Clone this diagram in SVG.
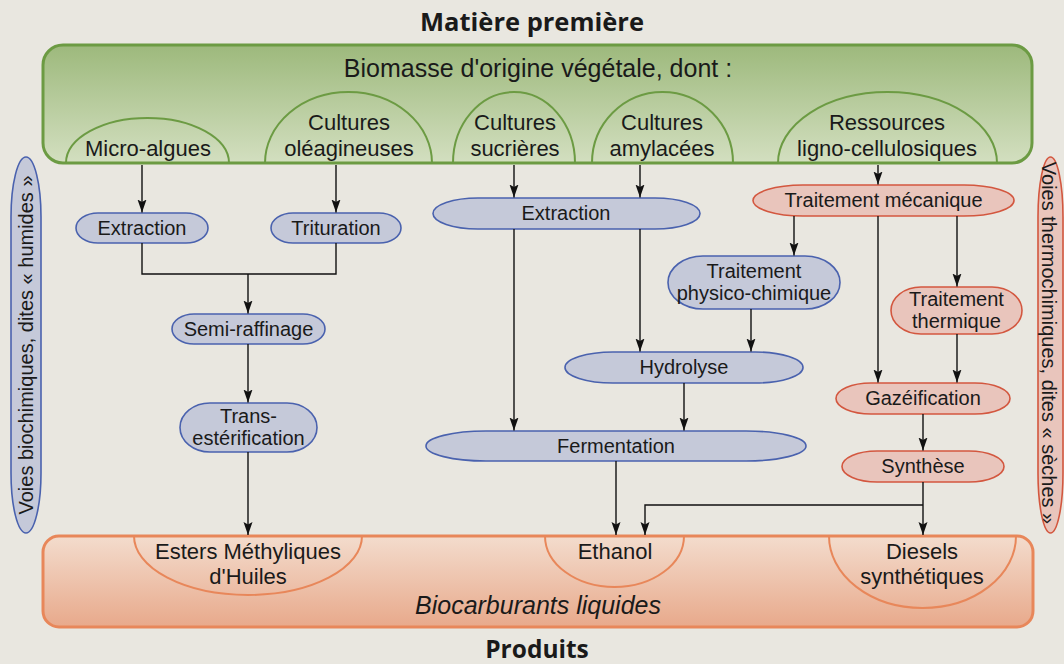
<svg xmlns="http://www.w3.org/2000/svg" width="1064" height="664" viewBox="0 0 1064 664">
<defs>
<linearGradient id="gGreen" x1="0" y1="0" x2="0" y2="1">
<stop offset="0" stop-color="#9db97c"/>
<stop offset="1" stop-color="#d3dfc0"/>
</linearGradient>
<linearGradient id="gOrange" x1="0" y1="0" x2="0" y2="1">
<stop offset="0" stop-color="#f3dccd"/>
<stop offset="1" stop-color="#e8a98b"/>
</linearGradient>
<marker id="arr" markerUnits="userSpaceOnUse" markerWidth="13" markerHeight="10" refX="13" refY="4.5" orient="auto">
<path d="M0,0 L13,4.5 L0,9 L2.5,4.5 z" fill="#111"/>
</marker>
</defs>
<style>
text{font-family:"Liberation Sans",Arial,sans-serif;fill:#1a1a1a;}
.title{font-family:"Open Sans",sans-serif;font-weight:700;font-size:25.5px;text-anchor:middle}
.big{font-size:25px;text-anchor:middle}
.src{font-size:22px;text-anchor:middle}
.nd{font-size:20px;text-anchor:middle}
.side{font-size:20px;text-anchor:middle}
.bl{fill:#c5c9d9;stroke:#4a62ae;stroke-width:1.6}
.rd{fill:#e9c5bc;stroke:#d3573f;stroke-width:1.6}
.garc{fill:none;stroke:#6c9b43;stroke-width:2}
.oarc{fill:none;stroke:#e8875a;stroke-width:2}
.conn line,.conn polyline{stroke:#111;stroke-width:1.4;fill:none}
</style>
<rect width="1064" height="664" fill="#e9e7e0"/>

<text class="title" x="532" y="31">Matière première</text>

<g id="biomasse">
<rect x="43" y="45" width="989" height="118" rx="20" ry="20" fill="url(#gGreen)" stroke="#6c9b43" stroke-width="3"/>
<text class="big" x="538" y="77">Biomasse d'origine végétale, dont :</text>
</g>
<g id="micro-algues">
<path class="garc" d="M66,163 A81.5,45 0 0 1 229,163"/>
<text class="src" x="148" y="156">Micro-algues</text>
</g>
<g id="oleagineuses">
<path class="garc" d="M265,163 A83.5,71 0 0 1 432,163"/>
<text class="src" x="349" y="130">Cultures</text>
<text class="src" x="349" y="156">oléagineuses</text>
</g>
<g id="sucrieres">
<path class="garc" d="M453,163 A61,71 0 0 1 575,163"/>
<text class="src" x="515" y="130">Cultures</text>
<text class="src" x="515" y="156">sucrières</text>
</g>
<g id="amylacees">
<path class="garc" d="M592,163 A70.5,71 0 0 1 733,163"/>
<text class="src" x="662" y="130">Cultures</text>
<text class="src" x="662" y="156">amylacées</text>
</g>
<g id="ligno">
<path class="garc" d="M778,163 A109.5,71 0 0 1 997,163"/>
<text class="src" x="887" y="130">Ressources</text>
<text class="src" x="887" y="156">ligno-cellulosiques</text>
</g>

<g id="voies-bio">
<rect class="bl" x="11" y="157" width="30" height="376" rx="15" ry="60"/>
<text class="side" transform="translate(33,345) rotate(-90)" x="0" y="0">Voies biochimiques, dites « humides »</text>
</g>
<g id="voies-thermo">
<rect class="rd" x="1038" y="157" width="25" height="376" rx="12.5" ry="60"/>
<text class="side" transform="translate(1042,343) rotate(90)" x="0" y="0">Voies thermochimiques, dites « sèches »</text>
</g>

<g id="extraction1">
<rect class="bl" x="76" y="213" width="132" height="30" rx="22" ry="15"/>
<text class="nd" x="142" y="235">Extraction</text>
</g>
<g id="trituration">
<rect class="bl" x="271" y="213" width="130" height="30" rx="22" ry="15"/>
<text class="nd" x="336" y="235">Trituration</text>
</g>
<g id="semi-raffinage">
<rect class="bl" x="172" y="314" width="153" height="30" rx="22" ry="15"/>
<text class="nd" x="248.5" y="336">Semi-raffinage</text>
</g>
<g id="transesterification">
<rect class="bl" x="180" y="403" width="137" height="49" rx="30" ry="24.5"/>
<text class="nd" x="248.5" y="423">Trans-</text>
<text class="nd" x="248.5" y="445">estérification</text>
</g>
<g id="extraction2">
<rect class="bl" x="433" y="198" width="267" height="31" rx="45" ry="15.5"/>
<text class="nd" x="566" y="220">Extraction</text>
</g>
<g id="physico">
<rect class="bl" x="668" y="256" width="172" height="53" rx="35" ry="26.5"/>
<text class="nd" x="754" y="278">Traitement</text>
<text class="nd" x="754" y="300">physico-chimique</text>
</g>
<g id="hydrolyse">
<rect class="bl" x="565" y="352" width="238" height="31" rx="48" ry="15.5"/>
<text class="nd" x="684" y="374">Hydrolyse</text>
</g>
<g id="fermentation">
<rect class="bl" x="426" y="431" width="380" height="30" rx="60" ry="15"/>
<text class="nd" x="616" y="453">Fermentation</text>
</g>

<g id="mecanique">
<rect class="rd" x="753" y="185" width="261" height="31" rx="50" ry="15.5"/>
<text class="nd" x="883.5" y="207">Traitement mécanique</text>
</g>
<g id="thermique">
<rect class="rd" x="891" y="287" width="131" height="47" rx="30" ry="23.5"/>
<text class="nd" x="956.5" y="306">Traitement</text>
<text class="nd" x="956.5" y="328">thermique</text>
</g>
<g id="gazeification">
<rect class="rd" x="836" y="383" width="174" height="31" rx="35" ry="15.5"/>
<text class="nd" x="923" y="405">Gazéification</text>
</g>
<g id="synthese">
<rect class="rd" x="842" y="451" width="162" height="31" rx="35" ry="15.5"/>
<text class="nd" x="923" y="473">Synthèse</text>
</g>

<g id="produits">
<rect x="43" y="536" width="990" height="91" rx="16" ry="16" fill="url(#gOrange)" stroke="#e8875a" stroke-width="3"/>
<text class="big" x="538" y="614" font-style="italic">Biocarburants liquides</text>
</g>
<g id="emh">
<path class="oarc" d="M134,536 A114,59 0 0 0 362,536"/>
<text class="src" x="248" y="559">Esters Méthyliques</text>
<text class="src" x="248" y="584">d'Huiles</text>
</g>
<g id="ethanol">
<path class="oarc" d="M545,536 A69.5,51 0 0 0 684,536"/>
<text class="src" x="615" y="559">Ethanol</text>
</g>
<g id="diesels">
<path class="oarc" d="M829,536 A93.5,72 0 0 0 1016,536"/>
<text class="src" x="922" y="559">Diesels</text>
<text class="src" x="922" y="584">synthétiques</text>
</g>

<text class="title" x="537" y="658" style="font-size:24.5px">Produits</text>

<g id="connectors" class="conn">
<line x1="142" y1="165" x2="142" y2="212.5" marker-end="url(#arr)"/>
<line x1="336" y1="165" x2="336" y2="212.5" marker-end="url(#arr)"/>
<polyline points="142,243 142,274 336,274 336,243"/>
<line x1="248" y1="274" x2="248" y2="313.5" marker-end="url(#arr)"/>
<line x1="248" y1="344" x2="248" y2="402.5" marker-end="url(#arr)"/>
<line x1="248" y1="452" x2="248" y2="535" marker-end="url(#arr)"/>
<line x1="514" y1="165" x2="514" y2="197.5" marker-end="url(#arr)"/>
<line x1="640" y1="165" x2="640" y2="197.5" marker-end="url(#arr)"/>
<line x1="514" y1="229" x2="514" y2="430.5" marker-end="url(#arr)"/>
<line x1="640" y1="229" x2="640" y2="351.5" marker-end="url(#arr)"/>
<line x1="794" y1="216" x2="794" y2="255.5" marker-end="url(#arr)"/>
<line x1="751" y1="309" x2="751" y2="351.5" marker-end="url(#arr)"/>
<line x1="684" y1="383" x2="684" y2="430.5" marker-end="url(#arr)"/>
<line x1="616" y1="461" x2="616" y2="535" marker-end="url(#arr)"/>
<line x1="878" y1="165" x2="878" y2="184.5" marker-end="url(#arr)"/>
<line x1="878" y1="216" x2="878" y2="382.5" marker-end="url(#arr)"/>
<line x1="957" y1="216" x2="957" y2="286.5" marker-end="url(#arr)"/>
<line x1="957" y1="334" x2="957" y2="382.5" marker-end="url(#arr)"/>
<line x1="923" y1="414" x2="923" y2="450.5" marker-end="url(#arr)"/>
<line x1="923" y1="482" x2="923" y2="535" marker-end="url(#arr)"/>
<polyline points="923,505 645,505 645,535" marker-end="url(#arr)"/>
</g>
</svg>
